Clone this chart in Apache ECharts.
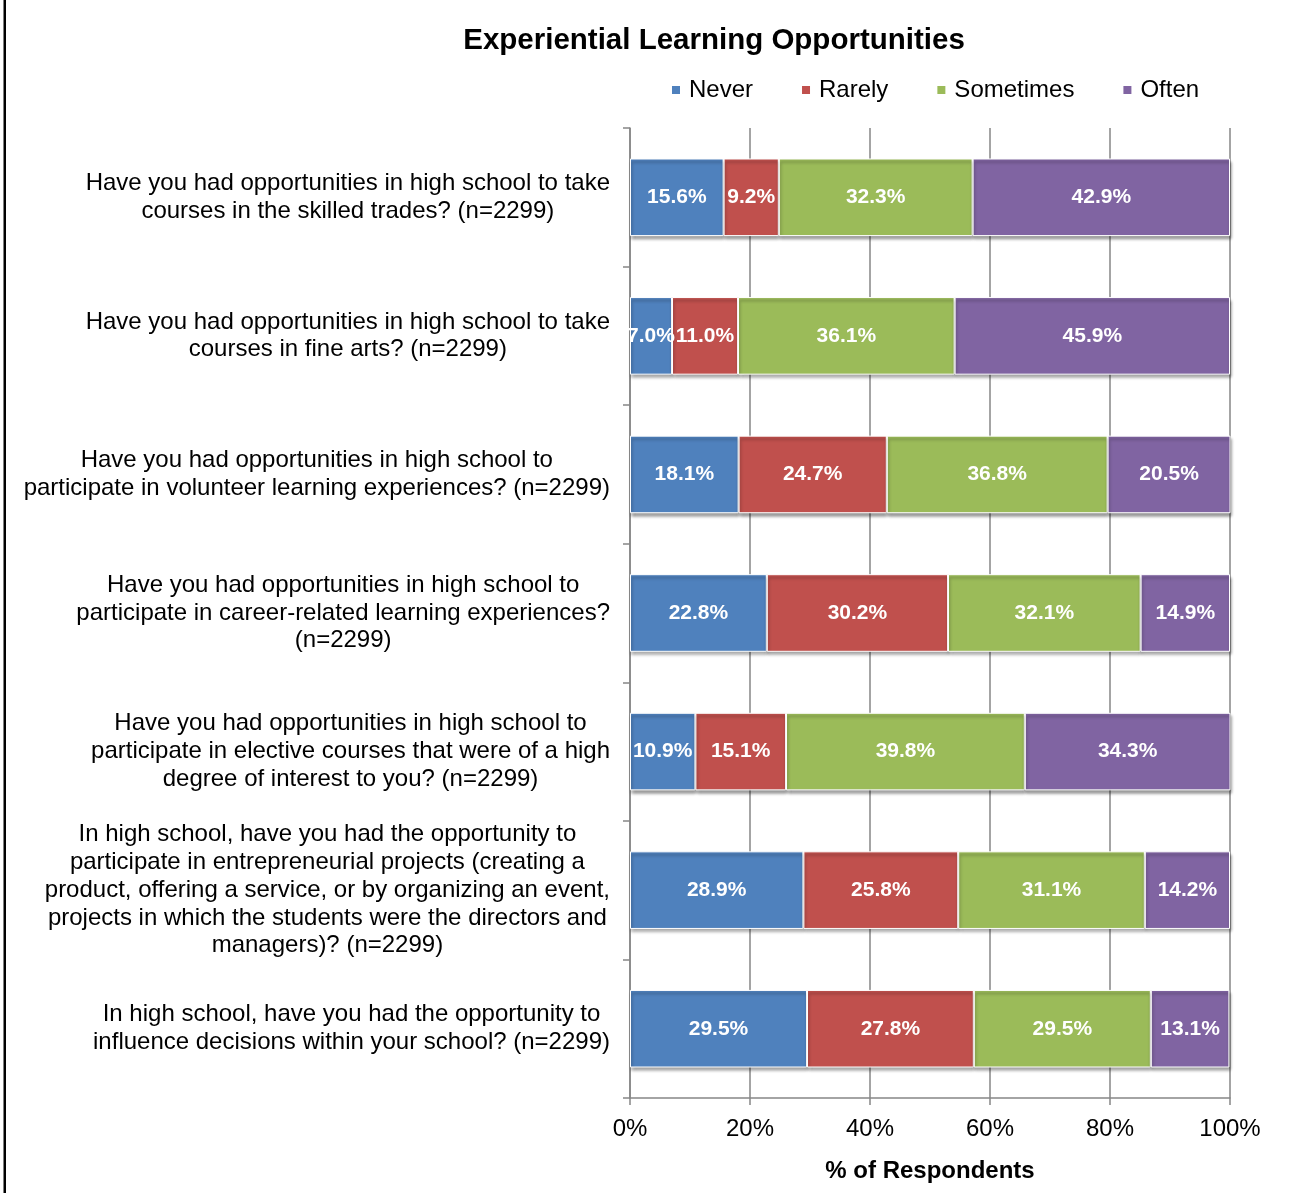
<!DOCTYPE html>
<html>
<head>
<meta charset="utf-8">
<script src="https://cdn.jsdelivr.net/npm/echarts@6.0.0/dist/echarts.min.js"></script>
<style>
  html, body { margin: 0; padding: 0; background: #fff; }
  #chart { width: 1292px; height: 1193px; }
</style>
</head>
<body>
<div id="chart"></div>
<script>
// questions, top to bottom
var questions = [
    'Have you had opportunities in high school to take\ncourses in the skilled trades? (n=2299)',
    'Have you had opportunities in high school to take\ncourses in fine arts? (n=2299)',
    'Have you had opportunities in high school to\nparticipate in volunteer learning experiences? (n=2299)',
    'Have you had opportunities in high school to\nparticipate in career-related learning experiences?\n(n=2299)',
    'Have you had opportunities in high school to\nparticipate in elective courses that were of a high\ndegree of interest to you? (n=2299)',
    'In high school, have you had the opportunity to\nparticipate in entrepreneurial projects (creating a\nproduct, offering a service, or by organizing an event,\nprojects in which the students were the directors and\nmanagers)? (n=2299)',
    'In high school, have you had the opportunity to\ninfluence decisions within your school? (n=2299)'
];
var levels = ['Never', 'Rarely', 'Sometimes', 'Often'];
var levelColors = ['#4F81BD', '#C0504D', '#9BBB59', '#8064A2'];

var never = [15.6, 7.0, 18.1, 22.8, 10.9, 28.9, 29.5];
var rarely = [9.2, 11.0, 24.7, 30.2, 15.1, 25.8, 27.8];
var sometimes = [32.3, 36.1, 36.8, 32.1, 39.8, 31.1, 29.5];
var often = [42.9, 45.9, 20.5, 14.9, 34.3, 14.2, 13.1];

var xTicks = [0, 20, 40, 60, 80, 100];

var font = "'Liberation Sans', Arial, sans-serif";
var gray = '#868686';

var chart = echarts.init(document.getElementById('chart'));

var makeSeries = function(name, values, color) {
    return {
        name: name,
        type: 'bar',
        stack: 'total',
        data: values,
        barWidth: '56%',
        itemStyle: {
            color: color,
            borderColor: '#fff',
            borderWidth: 1,
            shadowColor: 'rgba(0,0,0,0.4)',
            shadowBlur: 3,
            shadowOffsetX: 1,
            shadowOffsetY: 3
        },
        label: {
            show: true,
            position: 'inside',
            color: '#fff',
            fontFamily: font,
            fontWeight: 'bold',
            fontSize: 21,
            formatter: function(p) { return p.value.toFixed(1) + '%'; }
        }
    };
};

var seriesValues = [never, rarely, sometimes, often];

chart.setOption({
    animation: false,
    backgroundColor: '#fff',
    textStyle: { fontFamily: font },
    title: {
        text: 'Experiential Learning Opportunities',
        left: 709,
        top: 21,
        textAlign: 'center',
        textStyle: { fontSize: 29.5, fontWeight: 'bold', color: '#000', fontFamily: font }
    },
    legend: {
        data: levels,
        left: 665,
        top: 73,
        itemWidth: 10,
        itemHeight: 10,
        itemGap: 47,
        icon: 'rect',
        textStyle: { fontSize: 24, color: '#000', fontFamily: font, padding: [0, 0, 0, 3] }
    },
    graphic: [{
        type: 'rect',
        shape: { x: 3.5, y: 0, width: 2.5, height: 1193 },
        style: { fill: '#000' }
    }],
    grid: { left: 630, right: 62, top: 128, bottom: 95 },
    xAxis: {
        type: 'value',
        min: 0,
        max: 100,
        interval: 20,
        name: '% of Respondents',
        nameLocation: 'middle',
        nameGap: 61,
        nameTextStyle: { fontSize: 24, fontWeight: 'bold', color: '#000', fontFamily: font },
        axisLine: { show: true, lineStyle: { color: gray, width: 1.5 } },
        axisTick: { show: true, length: 7, lineStyle: { color: gray, width: 1.5 } },
        splitLine: { show: true, lineStyle: { color: gray, width: 1.5 } },
        axisLabel: {
            margin: 19,
            fontSize: 24,
            color: '#000',
            fontFamily: font,
            formatter: function(v) { return xTicks.indexOf(v) >= 0 ? v + '%' : ''; }
        }
    },
    yAxis: {
        type: 'category',
        inverse: true,
        data: questions,
        axisLine: { show: true, lineStyle: { color: gray, width: 1.5 } },
        axisTick: { show: true, length: 7, lineStyle: { color: gray, width: 1.5 } },
        axisLabel: {
            margin: 20,
            fontSize: 24,
            lineHeight: 27.8,
            color: '#000',
            fontFamily: font,
            align: 'right',
            formatter: function(v) {
                return v.split('\n').map(function(line) { return '{c|' + line + '}'; }).join('\n');
            },
            rich: {
                c: { align: 'center', fontSize: 24, lineHeight: 27.8, color: '#000', fontFamily: font }
            }
        }
    },
    series: levels.map(function(name, i) {
        return makeSeries(name, seriesValues[i], levelColors[i]);
    })
});
</script>
</body>
</html>
